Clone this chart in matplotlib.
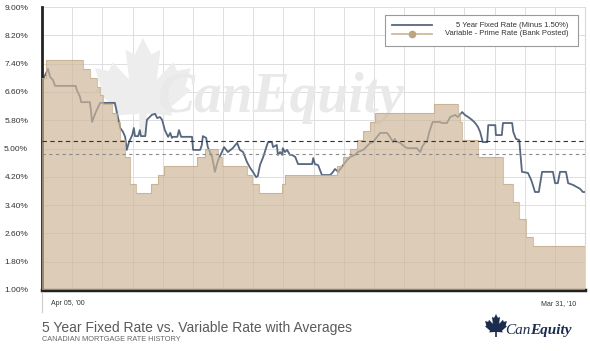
import numpy as np
import matplotlib
matplotlib.use("Agg")
import matplotlib.pyplot as plt
from matplotlib.patches import Polygon, Rectangle
from matplotlib.lines import Line2D

plt.rcParams['font.family'] = ['Liberation Sans', 'DejaVu Sans']

# 5 year fixed rate minus 1.50% (decimal year, %)
fixed_year = [2000.26, 2000.32, 2000.37, 2000.41, 2000.46, 2000.50, 2000.88, 2000.90, 2000.96, 2000.98,
              2001.14, 2001.16, 2001.18, 2001.25, 2001.33, 2001.60, 2001.70, 2001.75, 2001.79, 2001.82,
              2001.86, 2001.92, 2001.95, 2001.97, 2002.03, 2002.06, 2002.08, 2002.16, 2002.19, 2002.28,
              2002.34, 2002.38, 2002.43, 2002.47, 2002.52, 2002.58, 2002.62, 2002.65, 2002.67, 2002.75,
              2002.78, 2002.82, 2003.02, 2003.04, 2003.17, 2003.20, 2003.22, 2003.28, 2003.31, 2003.39,
              2003.44, 2003.50, 2003.57, 2003.61, 2003.65, 2003.68, 2003.77, 2003.85, 2003.90, 2003.96,
              2004.03, 2004.09, 2004.14, 2004.20, 2004.23, 2004.27, 2004.33, 2004.40, 2004.42, 2004.49,
              2004.51, 2004.58, 2004.60, 2004.64, 2004.68, 2004.69, 2004.73, 2004.77, 2004.82, 2004.86,
              2004.92, 2004.97, 2005.23, 2005.25, 2005.28, 2005.34, 2005.41, 2005.56, 2005.60, 2005.65,
              2005.71, 2005.80, 2005.87, 2005.93, 2006.02, 2006.07, 2006.17, 2006.30, 2006.35, 2006.48,
              2006.61, 2006.66, 2006.72, 2006.75, 2006.77, 2006.85, 2006.94, 2006.99, 2007.16, 2007.18,
              2007.22, 2007.25, 2007.31, 2007.34, 2007.38, 2007.44, 2007.45, 2007.58, 2007.62, 2007.71,
              2007.77, 2007.86, 2007.91, 2007.99, 2008.04, 2008.10, 2008.17, 2008.23, 2008.28, 2008.32,
              2008.37, 2008.45, 2008.47, 2008.60, 2008.61, 2008.72, 2008.74, 2008.91, 2008.93, 2008.98,
              2009.04, 2009.09, 2009.20, 2009.26, 2009.29, 2009.33, 2009.40, 2009.46, 2009.66, 2009.70,
              2009.75, 2009.79, 2009.90, 2009.94, 2010.03, 2010.10, 2010.16, 2010.21, 2010.25]
fixed_rate = [6.88, 7.08, 7.25, 7.02, 6.94, 6.77, 6.77, 6.65, 6.46, 6.31,
              6.31, 6.09, 5.75, 6.03, 6.29, 6.29, 5.58, 5.47, 5.33, 4.96,
              5.18, 5.38, 5.58, 5.35, 5.35, 5.52, 5.35, 5.35, 5.81, 5.95,
              5.98, 5.86, 5.89, 5.81, 5.52, 5.33, 5.44, 5.30, 5.33, 5.33,
              5.52, 5.33, 5.33, 4.96, 4.96, 5.10, 5.35, 5.30, 5.04, 4.76,
              4.34, 4.67, 4.90, 5.04, 4.96, 4.90, 5.01, 5.16, 4.96, 4.90,
              4.62, 4.45, 4.34, 4.19, 4.22, 4.53, 4.76, 5.10, 5.18, 5.18,
              5.04, 5.10, 4.82, 4.90, 4.82, 5.01, 4.90, 4.96, 4.82, 4.82,
              4.76, 4.56, 4.56, 4.73, 4.56, 4.53, 4.25, 4.25, 4.31, 4.42,
              4.34, 4.53, 4.67, 4.76, 4.82, 4.90, 4.96, 5.16, 5.18, 5.44,
              5.44, 5.33, 5.18, 5.27, 5.20, 5.16, 5.04, 5.01, 5.01, 4.96,
              4.90, 5.04, 5.18, 5.18, 5.44, 5.72, 5.75, 5.75, 5.72, 5.72,
              5.89, 5.95, 5.89, 6.03, 5.95, 5.89, 5.81, 5.72, 5.61, 5.47,
              5.18, 5.18, 5.66, 5.66, 5.38, 5.38, 5.72, 5.72, 5.47, 5.27,
              5.24, 4.34, 4.31, 4.11, 3.97, 3.77, 3.77, 4.34, 4.34, 4.02,
              4.02, 4.34, 4.34, 4.02, 3.97, 3.91, 3.86, 3.77, 3.77]

# variable - prime rate, change dates (decimal year, %)
prime_year = [2000.26, 2000.33, 2001.01, 2001.14, 2001.27, 2001.33, 2001.38, 2001.55, 2001.64, 2001.70,
              2001.78, 2001.88, 2001.99, 2002.27, 2002.40, 2002.51, 2003.11, 2003.26, 2003.50, 2003.57,
              2004.03, 2004.12, 2004.25, 2004.67, 2004.73, 2005.69, 2005.80, 2005.93, 2006.06, 2006.17,
              2006.30, 2006.39, 2007.47, 2007.91, 2007.95, 2007.99, 2008.28, 2008.74, 2008.92, 2009.04,
              2009.17, 2009.29, 2010.25]
prime_rate = [7.00, 7.50, 7.25, 7.00, 6.75, 6.50, 6.25, 6.00, 5.75, 5.25,
              4.75, 4.00, 3.75, 4.00, 4.25, 4.50, 4.75, 5.00, 4.75, 4.50,
              4.25, 4.00, 3.75, 4.00, 4.25, 4.50, 4.75, 5.00, 5.25, 5.50,
              5.75, 6.00, 6.25, 6.00, 5.75, 5.25, 4.75, 4.00, 3.50, 3.00,
              2.50, 2.25, 2.25]

fixed_avg = 5.21
prime_avg = 4.85

y_ticks = [1.0, 1.8, 2.6, 3.4, 4.2, 5.0, 5.8, 6.6, 7.4, 8.2, 9.0]
y_labels = ['1.00%', '1.80%', '2.60%', '3.40%', '4.20%', '5.00%', '5.80%', '6.60%', '7.40%', '8.20%', '9.00%']
x_labels = ["Apr 05, '00", "Mar 31, '10"]

FIXED_C = '#56677f'
TAN = '#cdb697'
W, H = 590, 351


def leaf(cx, bottom, w, h):
    # maple leaf outline in figure fractions, from pixel position
    half = [(0.00, 1.00), (0.09, 0.83), (0.19, 0.88), (0.15, 0.57), (0.33, 0.75), (0.37, 0.66),
            (0.52, 0.69), (0.46, 0.50), (0.52, 0.46), (0.29, 0.28), (0.32, 0.20), (0.04, 0.22),
            (0.04, 0.00)]
    pts = half + [(-x, y) for x, y in reversed(half)]
    return [((cx + x * w) / W, 1 - (bottom - y * h) / H) for x, y in pts]


fig = plt.figure(figsize=(5.9, 3.51), dpi=100)
ax = fig.add_axes([42 / W, 61 / H, 543 / W, 283 / H])

x0, x1 = prime_year[0], prime_year[-1]
ax.set_xlim(x0, x1)
ax.set_ylim(1, 9)

ax.set_xticks(np.linspace(x0, x1, 19))
ax.set_xticklabels([])
ax.set_yticks(y_ticks)
ax.set_yticklabels(y_labels)
ax.tick_params(length=0, labelsize=6, labelcolor='#333333')
ax.tick_params(axis='y', pad=10)
ax.grid(True, color='#dedede', lw=0.7)
ax.set_axisbelow(True)

ax.spines['top'].set_visible(False)
ax.spines['right'].set_color('#d8d8d8')
ax.spines['right'].set_linewidth(0.8)
ax.spines['left'].set_color('#222222')
ax.spines['left'].set_linewidth(2)
ax.spines['bottom'].set_color('#222222')
ax.spines['bottom'].set_linewidth(2.5)

# watermark
ax.add_patch(Polygon(leaf(143, 135, 92, 97), closed=True, transform=fig.transFigure,
                     fc='#ededed', ec='none', zorder=0.8))
ax.text(0.44, 0.63, 'CanEquity', transform=ax.transAxes, ha='center', va='baseline',
        fontsize=40, family='Liberation Serif', weight='bold', style='italic',
        color='#e9e9e9', zorder=0.9)

ax.plot(fixed_year, fixed_rate, color=FIXED_C, lw=1.3, zorder=2)
ax.fill_between(prime_year, prime_rate, 1, step='post', color=TAN, alpha=0.68, lw=0, zorder=3)
ax.step(prime_year, prime_rate, where='post', color='#c2aa88', lw=0.8, alpha=0.7, zorder=3)

ax.axhline(fixed_avg, color='#333333', lw=0.8, dashes=(4, 3), zorder=4)
ax.axhline(prime_avg, color='#8a8a8a', lw=0.8, dashes=(3, 3), zorder=4)

# legend
ax.add_patch(Rectangle((0.632, 0.862), 0.355, 0.110, transform=ax.transAxes,
                       fc='white', ec='#9a9a9a', lw=0.8, zorder=10))
ax.add_line(Line2D([0.645, 0.718], [0.936, 0.936], transform=ax.transAxes,
                   color=FIXED_C, lw=1.3, zorder=11))
ax.add_line(Line2D([0.645, 0.718], [0.905, 0.905], transform=ax.transAxes,
                   color='#cdbb9f', lw=1.3, zorder=11))
ax.add_line(Line2D([0.681], [0.905], transform=ax.transAxes, marker='o', ms=4.5,
                   color='#bba67f', lw=0, zorder=12))
ax.text(0.969, 0.936, '5 Year Fixed Rate (Minus 1.50%)', transform=ax.transAxes,
        ha='right', va='center', fontsize=5.5, color='#333333', zorder=12)
ax.text(0.969, 0.905, 'Variable - Prime Rate (Bank Posted)', transform=ax.transAxes,
        ha='right', va='center', fontsize=5.5, color='#333333', zorder=12)

# x labels and small tick under the axis
fig.add_artist(Line2D([42 / W, 42 / W], [1 - 292 / H, 1 - 312 / H], color='#cccccc', lw=0.8))
fig.text(51 / W, 1 - 305 / H, x_labels[0], fontsize=5, color='#333333', va='baseline')
fig.text(576 / W, 1 - 305 / H, x_labels[1], fontsize=5, color='#333333', va='baseline', ha='right')

fig.text(42 / W, 1 - 332 / H, '5 Year Fixed Rate vs. Variable Rate with Averages',
         fontsize=10, color='#5a5a5a', va='baseline')
fig.text(42 / W, 1 - 341 / H, 'CANADIAN MORTGAGE RATE HISTORY',
         fontsize=5.3, color='#666666', va='baseline')

# logo
NAVY = '#1c2c4e'
fig.add_artist(Polygon(leaf(496, 337, 21, 23), closed=True, transform=fig.transFigure,
                       fc=NAVY, ec='none'))
t1 = fig.text(505 / W, 1 - 334 / H, 'Can', fontsize=11, family='Liberation Serif',
              style='italic', color=NAVY, va='baseline')
fig.canvas.draw()
bb = t1.get_window_extent()
fig.text(bb.x1 / W, 1 - 334 / H, 'Equity', fontsize=11, family='Liberation Serif',
         style='italic', weight='bold', color=NAVY, va='baseline')

fig.savefig('out.png', dpi=100)
